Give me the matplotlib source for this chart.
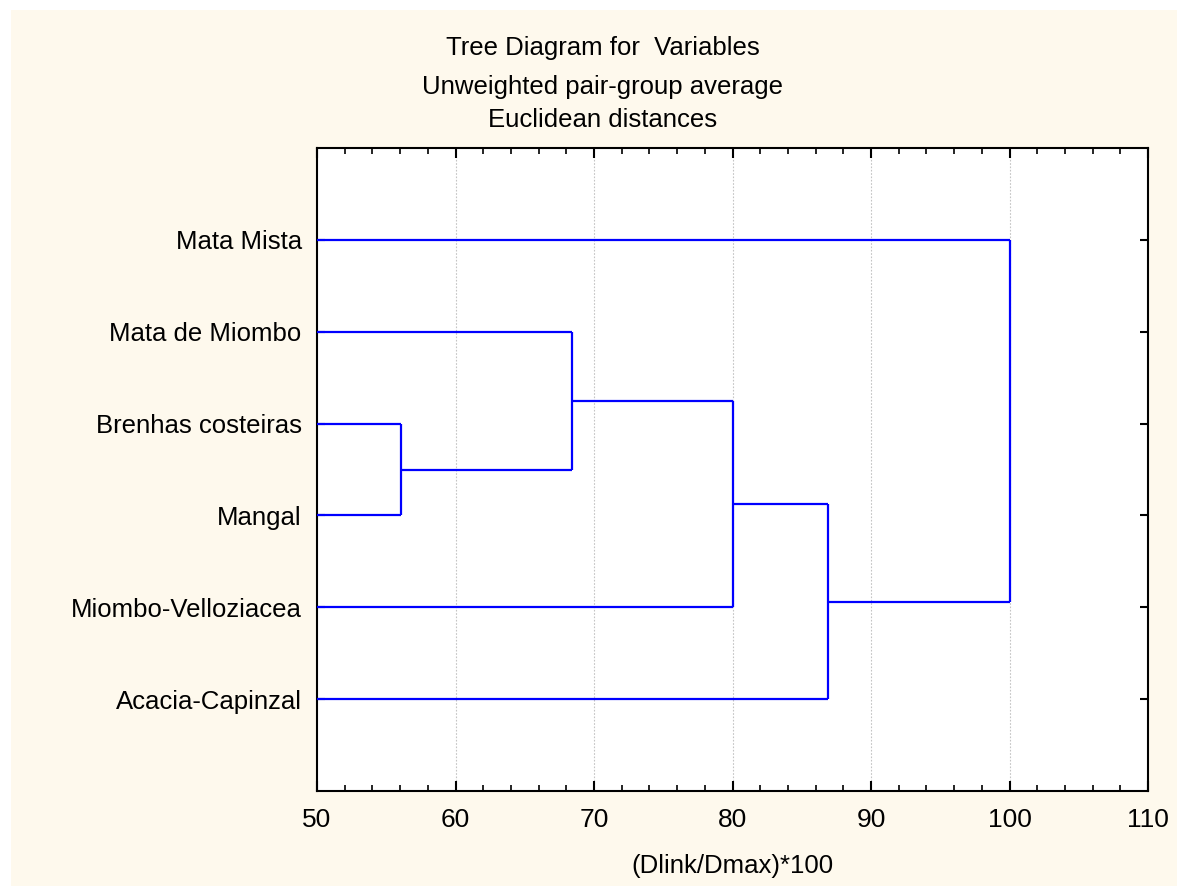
import matplotlib
matplotlib.use("Agg")
import matplotlib.pyplot as plt
from matplotlib.patches import Rectangle
from matplotlib.ticker import MultipleLocator

# Leaves, listed top to bottom as they appear on the tree
leaves = ["Mata Mista", "Mata de Miombo", "Brenhas costeiras", "Mangal",
          "Miombo-Velloziacea", "Acacia-Capinzal"]

# Agglomeration steps: (first member, second member, linkage distance)
# members are leaf names or the index of an earlier step (as "#k")
merges = [
    ("Brenhas costeiras", "Mangal", 56.1),
    ("Mata de Miombo", "#0", 68.4),
    ("#1", "Miombo-Velloziacea", 80.0),
    ("#2", "Acacia-Capinzal", 86.9),
    ("Mata Mista", "#3", 100.0),
]

x_min, x_max = 50, 110
x_major = 10
x_minor = 2

plt.rcParams["font.family"] = ["Liberation Sans", "DejaVu Sans"]

fig = plt.figure(figsize=(11.77, 8.86), dpi=100)
fig.patch.set_facecolor("white")
# cream panel behind the chart
fig.patches.append(Rectangle((11 / 1177, 0), 1 - 11 / 1177, 1 - 10 / 886,
                             transform=fig.transFigure, facecolor="#FEF9ED",
                             edgecolor="none", zorder=-10))

ax = fig.add_axes([317 / 1177, 1 - 791 / 886, (1148 - 317) / 1177, (791 - 148) / 886])
ax.set_facecolor("white")

ypos = {name: i + 1 for i, name in enumerate(leaves)}
node_x = {name: float(x_min) for name in leaves}
node_y = dict(ypos)

line_kw = dict(color="#0000FF", lw=1.6, solid_capstyle="butt", zorder=3)
for k, (a, b, d) in enumerate(merges):
    ya, yb = node_y[a], node_y[b]
    ax.plot([node_x[a], d], [ya, ya], **line_kw)
    ax.plot([node_x[b], d], [yb, yb], **line_kw)
    ax.plot([d, d], [ya, yb], **line_kw)
    key = "#%d" % k
    node_x[key] = d
    node_y[key] = (ya + yb) / 2

ax.set_xlim(x_min, x_max)
ax.set_ylim(len(leaves) + 1, 0)

ax.xaxis.set_major_locator(MultipleLocator(x_major))
ax.xaxis.set_minor_locator(MultipleLocator(x_minor))
ax.set_yticks(list(ypos.values()))
ax.set_yticklabels(leaves)

for xv in range(x_min + x_major, x_max, x_major):
    ax.axvline(xv, color="#C4C4C4", lw=0.8, ls=(0, (1.5, 1.5)), zorder=1)

ax.tick_params(axis="x", which="major", direction="in", top=True, bottom=True,
               length=7, width=1.5, labelsize=19, pad=12, colors="black")
ax.tick_params(axis="x", which="minor", direction="in", top=True, bottom=True,
               length=4, width=1.2)
ax.tick_params(axis="y", which="major", direction="in", left=True, right=True,
               length=6, width=1.5, labelsize=18.5, pad=11)

for s in ax.spines.values():
    s.set_linewidth(1.5)
    s.set_color("black")

ax.set_xlabel("(Dlink/Dmax)*100", fontsize=18.5, labelpad=16)

title_x = 603 / 1177
title_size = 18.5
fig.text(title_x, 1 - 55 / 886, "Tree Diagram for  Variables", ha="center",
         va="baseline", fontsize=title_size)
fig.text(title_x, 1 - 94 / 886, "Unweighted pair-group average", ha="center",
         va="baseline", fontsize=title_size)
fig.text(title_x, 1 - 127 / 886, "Euclidean distances", ha="center",
         va="baseline", fontsize=title_size)

fig.savefig("out.png", dpi=100)
